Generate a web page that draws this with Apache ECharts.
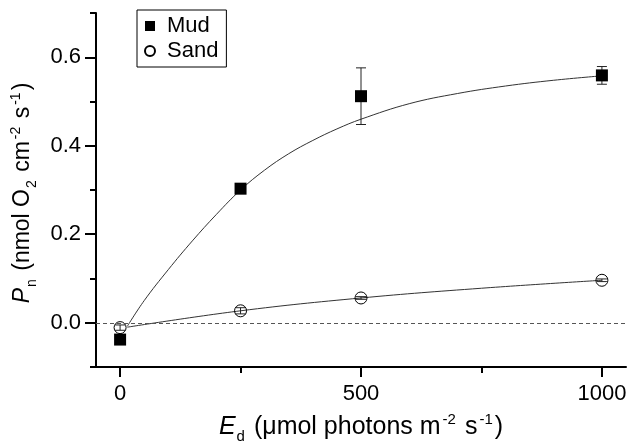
<!DOCTYPE html>
<html><head><meta charset="utf-8">
<script src="https://cdn.jsdelivr.net/npm/echarts@6/dist/echarts.min.js"></script>
<style>html,body{margin:0;padding:0;background:#fff}#c{width:628px;height:443px}</style>
</head><body><div id="c"></div>
<script>
const lightLevels = [0, 250, 500, 1000];
const mudMean = [-0.038, 0.303, 0.512, 0.559];
const mudErr = [0.004, 0.005, 0.064, 0.020];
const sandMean = [-0.011, 0.027, 0.056, 0.096];
const sandErr = [0.006, 0.007, 0.003, 0.003];
const mudFitE = [15, 50, 100, 150, 200, 250, 300, 350, 400, 450, 500, 600, 700, 800, 900, 1000];
const mudFitP = [-0.008, 0.05, 0.12, 0.185, 0.245, 0.300, 0.345, 0.382, 0.412, 0.438, 0.460, 0.495, 0.518, 0.535, 0.548, 0.558];
const sandFitE = [15, 250, 500, 750, 1000];
const sandFitP = [-0.010, 0.027, 0.056, 0.078, 0.096];
const xMajorTicks = [0, 500, 1000];
const xMinorTicks = [250, 750];
const yMajorTicks = [0, 0.2, 0.4, 0.6];
const yMinorTicks = [-0.1, 0.1, 0.3, 0.5, 0.7];

const FONT = 'Liberation Sans, Arial, sans-serif';
function makeRich(fs, ss) {
  return {
    n: {fontSize: fs, fontFamily: FONT, color: '#000', lineHeight: fs + 9},
    it: {fontSize: fs, fontFamily: FONT, color: '#000', fontStyle: 'italic', lineHeight: fs + 9},
    sub: {fontSize: ss, fontFamily: FONT, color: '#000', verticalAlign: 'bottom', lineHeight: ss, padding: [0, 2, 0, 1]},
    sup: {fontSize: ss, fontFamily: FONT, color: '#000', verticalAlign: 'top', lineHeight: ss, padding: [2, 2, 0, 2]}
  };
}

function pairs(xs, ys) { return xs.map((x, i) => [x, ys[i]]); }
function errData(xs, m, e) { return xs.map((x, i) => [x, m[i] - e[i], m[i] + e[i]]); }

function renderErr(params, api) {
  const x = api.value(0);
  const lo = api.coord([x, api.value(1)]);
  const hi = api.coord([x, api.value(2)]);
  const w = 5;
  const st = {stroke: '#222', lineWidth: 1, fill: null};
  return {type: 'group', children: [
    {type: 'line', shape: {x1: lo[0], y1: lo[1], x2: hi[0], y2: hi[1]}, style: st},
    {type: 'line', shape: {x1: lo[0] - w, y1: lo[1], x2: lo[0] + w, y2: lo[1]}, style: st},
    {type: 'line', shape: {x1: hi[0] - w, y1: hi[1], x2: hi[0] + w, y2: hi[1]}, style: st}
  ]};
}

const chart = echarts.init(document.getElementById('c'));
chart.setOption({
  animation: false,
  backgroundColor: '#fff',
  grid: {left: 96, right: 2, top: 13, bottom: 76, containLabel: false, outerBoundsMode: 'none'},
  legend: {
    orient: 'vertical', left: 137, top: 10,
    borderColor: '#000', borderWidth: 1, padding: [5, 8, 5, 7],
    itemWidth: 10, itemHeight: 10, itemGap: 3,
    textStyle: {fontSize: 22, fontFamily: FONT, color: '#000', padding: [0, 0, 0, 7], lineHeight: 22},
    data: [{name: 'Mud', icon: 'rect'}, {name: 'Sand', icon: 'circle'}]
  },
  xAxis: [{
    type: 'value', min: -50, max: 1050, position: 'bottom',
    axisLine: {show: true, onZero: false, lineStyle: {color: '#000', width: 2}},
    axisTick: {show: true, customValues: xMajorTicks, length: 10, lineStyle: {color: '#000', width: 2}},
    axisLabel: {customValues: xMajorTicks, formatter: v => String(v), fontSize: 22, fontFamily: FONT, color: '#000', margin: 16},
    splitLine: {show: false},
    name: '{it|E}{sub|d}{n| (μmol photons m}{sup|-2}{n| s}{sup|-1}{n|)}',
    nameLocation: 'middle', nameGap: 40,
    nameTextStyle: {rich: makeRich(25, 15)}
  }, {
    type: 'value', min: -50, max: 1050, position: 'bottom',
    axisLine: {show: false, onZero: false},
    axisTick: {show: true, customValues: xMinorTicks, length: 6, lineStyle: {color: '#000', width: 2}},
    axisLabel: {show: false}, splitLine: {show: false}
  }],
  yAxis: [{
    type: 'value', min: -0.1, max: 0.7, position: 'left',
    axisLine: {show: true, onZero: false, lineStyle: {color: '#000', width: 2}},
    axisTick: {show: true, customValues: yMajorTicks, length: 11, lineStyle: {color: '#000', width: 2}},
    axisLabel: {customValues: yMajorTicks, formatter: v => v.toFixed(1), fontSize: 22, fontFamily: FONT, color: '#000', margin: 15},
    splitLine: {show: false}
  }, {
    type: 'value', min: -0.1, max: 0.7, position: 'left',
    axisLine: {show: false, onZero: false},
    axisTick: {show: true, customValues: yMinorTicks, length: 6, lineStyle: {color: '#000', width: 2}},
    axisLabel: {show: false}, splitLine: {show: false}
  }],
  graphic: [{
    type: 'text', x: 23, y: 193, rotation: Math.PI / 2,
    style: {
      text: '{it|P}{sub|n}{n| (nmol O}{sub|2}{n| cm}{sup|-2}{n| s}{sup|-1}{n|)}',
      rich: makeRich(23, 14), align: 'center', verticalAlign: 'middle'
    }
  }],
  series: [
    {name: 'mudFit', type: 'line', data: pairs(mudFitE, mudFitP), smooth: 0.4, symbol: 'none',
     lineStyle: {color: '#333', width: 1}, silent: true, z: 1,
     markLine: {silent: true, symbol: 'none', label: {show: false},
       lineStyle: {type: [4, 3], color: '#555', width: 1}, data: [{yAxis: 0}]}},
    {name: 'sandFit', type: 'line', data: pairs(sandFitE, sandFitP), smooth: 0.4, symbol: 'none',
     lineStyle: {color: '#333', width: 1}, silent: true, z: 1},
    {name: 'mudErr', type: 'custom', data: errData(lightLevels, mudMean, mudErr), renderItem: renderErr, z: 2, silent: true},
    {name: 'sandErr', type: 'custom', data: errData(lightLevels, sandMean, sandErr), renderItem: renderErr, z: 2, silent: true},
    {name: 'Mud', type: 'scatter', data: pairs(lightLevels, mudMean), symbol: 'rect', symbolSize: 12,
     itemStyle: {color: '#000', opacity: 1}, z: 3},
    {name: 'Sand', type: 'scatter', data: pairs(lightLevels, sandMean), symbol: 'circle', symbolSize: 12,
     itemStyle: {color: 'rgba(255,255,255,0)', borderColor: '#000', borderWidth: 1, opacity: 1}, z: 3}
  ]
});
</script></body></html>
